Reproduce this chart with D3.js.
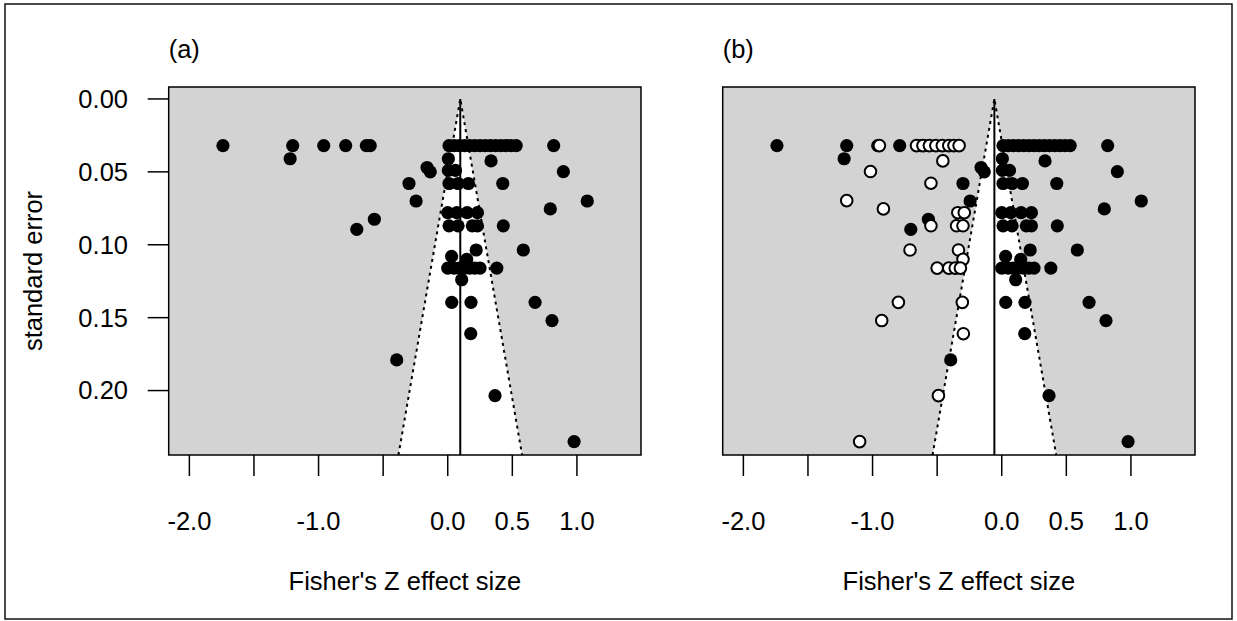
<!DOCTYPE html>
<html>
<head>
<meta charset="utf-8">
<script src="https://cdn.jsdelivr.net/npm/d3@7"></script>
<style>
  body { margin: 0; background: #fff; }
  svg { display: block; font-family: "Liberation Sans", Arial, sans-serif; }
</style>
</head>
<body>
<div id="chart"></div>
<script>
// Observed studies (Fisher's Z, standard error) - both panels
const studyZ = [
  -1.74, -1.20, -0.96, -0.79, -0.63, -0.60,
  0.01, 0.05, 0.09, 0.13, 0.17, 0.21, 0.25, 0.29, 0.33, 0.37, 0.41, 0.45, 0.49, 0.53, 0.82,
  -1.22, 0.005, 0.335,
  -0.16, -0.135, 0.005, 0.06, 0.895,
  -0.30, 0.01, 0.08, 0.16, 0.426,
  -0.245, 1.08, 0.794,
  0.0, 0.07, 0.15, 0.23,
  -0.568,
  0.01, 0.08, 0.19, 0.23, 0.43,
  -0.704,
  0.22, 0.585, 0.03, 0.147,
  0.0, 0.05, 0.09, 0.13, 0.17, 0.21, 0.25, 0.38,
  0.108,
  0.031, 0.18, 0.676,
  0.807, 0.178, -0.395, 0.366, 0.978
];
const studySE = [
  0.032, 0.032, 0.032, 0.032, 0.032, 0.032,
  0.032, 0.032, 0.032, 0.032, 0.032, 0.032, 0.032, 0.032, 0.032, 0.032, 0.032, 0.032, 0.032, 0.032, 0.032,
  0.041, 0.041, 0.0425,
  0.047, 0.050, 0.049, 0.049, 0.0498,
  0.058, 0.058, 0.058, 0.058, 0.058,
  0.070, 0.070, 0.0754,
  0.078, 0.078, 0.078, 0.078,
  0.0825,
  0.087, 0.087, 0.087, 0.087, 0.087,
  0.0894,
  0.1036, 0.1036, 0.108, 0.110,
  0.116, 0.116, 0.116, 0.116, 0.116, 0.116, 0.116, 0.116,
  0.124,
  0.1395, 0.1395, 0.1395,
  0.152, 0.161, 0.179, 0.2035, 0.235
];

// Imputed studies (open circles) - panel (b) only
const filledZ = [
  -0.947, -0.66, -0.61, -0.56, -0.51, -0.46, -0.41, -0.37, -0.33,
  -0.456, -1.016, -0.548, -1.20, -0.916,
  -0.34, -0.29,
  -0.548, -0.35, -0.30,
  -0.71, -0.335, -0.30,
  -0.50, -0.41, -0.36, -0.32,
  -0.305, -0.80, -0.929, -0.297, -0.49, -1.10
];
const filledSE = [
  0.032, 0.032, 0.032, 0.032, 0.032, 0.032, 0.032, 0.032, 0.032,
  0.0425, 0.0498, 0.0578, 0.0697, 0.0754,
  0.078, 0.078,
  0.087, 0.087, 0.087,
  0.1036, 0.1036, 0.110,
  0.116, 0.116, 0.116, 0.116,
  0.1395, 0.1395, 0.152, 0.161, 0.2035, 0.235
];

// Pooled estimates (vertical line) for each panel
const panelLabels = ["(a)", "(b)"];
const panelCenters = [0.097, -0.057];

const xTicks = [-2.0, -1.5, -1.0, -0.5, 0.0, 0.5, 1.0];
const xTickLabels = ["-2.0", "", "-1.0", "", "0.0", "0.5", "1.0"];
const yTicks = [0.00, 0.05, 0.10, 0.15, 0.20];

const width = 1237, height = 621;
const panelOffset = 554;
const box = { left: 168.7, right: 641, top: 87, bottom: 455 };
const fontSize = "25.5px";

const svg = d3.select("#chart").append("svg")
  .attr("width", width)
  .attr("height", height);

// Outer frame
svg.append("rect")
  .attr("x", 5).attr("y", 4)
  .attr("width", 1227).attr("height", 615)
  .attr("fill", "none")
  .attr("stroke", "#111")
  .attr("stroke-width", 1.5);

const x = d3.scaleLinear().domain([-2.16, 1.496]).range([box.left, box.right]);
const y = d3.scaleLinear().domain([-0.0082, 0.2442]).range([box.top, box.bottom]);

const studies = studyZ.map((z, i) => ({ z: z, se: studySE[i] }));
const imputed = filledZ.map((z, i) => ({ z: z, se: filledSE[i] }));

drawPanel(0, studies, []);
drawPanel(1, studies, imputed);

function drawPanel(idx, filled, open) {
  const g = svg.append("g").attr("transform", `translate(${idx * panelOffset},0)`);
  const center = panelCenters[idx];
  const seMax = y.domain()[1];

  // Gray background
  g.append("rect")
    .attr("x", box.left).attr("y", box.top)
    .attr("width", box.right - box.left).attr("height", box.bottom - box.top)
    .attr("fill", "#d3d3d3");

  // White funnel region
  const funnel = [
    [center - 1.96 * seMax, seMax],
    [center, 0],
    [center + 1.96 * seMax, seMax]
  ];
  g.append("path")
    .attr("d", d3.line().x(d => x(d[0])).y(d => y(d[1]))(funnel) + "Z")
    .attr("fill", "#fff");

  // Dotted funnel edges
  g.append("path")
    .attr("d", d3.line().x(d => x(d[0])).y(d => y(d[1]))(funnel))
    .attr("fill", "none")
    .attr("stroke", "#000")
    .attr("stroke-width", 2)
    .attr("stroke-dasharray", "3,4");

  // Vertical line at the estimate
  g.append("line")
    .attr("x1", x(center)).attr("x2", x(center))
    .attr("y1", y(0)).attr("y2", y(seMax))
    .attr("stroke", "#000")
    .attr("stroke-width", 2);

  // Observed points
  g.selectAll("circle.obs")
    .data(filled)
    .enter()
    .append("circle")
    .attr("class", "obs")
    .attr("cx", d => x(d.z))
    .attr("cy", d => y(d.se))
    .attr("r", 6.6)
    .attr("fill", "#000");

  // Imputed points
  g.selectAll("circle.imp")
    .data(open)
    .enter()
    .append("circle")
    .attr("class", "imp")
    .attr("cx", d => x(d.z))
    .attr("cy", d => y(d.se))
    .attr("r", 5.8)
    .attr("fill", "#fff")
    .attr("stroke", "#000")
    .attr("stroke-width", 2);

  // Box
  g.append("rect")
    .attr("x", box.left).attr("y", box.top)
    .attr("width", box.right - box.left).attr("height", box.bottom - box.top)
    .attr("fill", "none")
    .attr("stroke", "#000")
    .attr("stroke-width", 1.5);

  // X axis ticks and labels
  g.selectAll("line.xt")
    .data(xTicks)
    .enter()
    .append("line")
    .attr("x1", d => x(d)).attr("x2", d => x(d))
    .attr("y1", box.bottom).attr("y2", box.bottom + 21)
    .attr("stroke", "#000")
    .attr("stroke-width", 1.5);

  g.selectAll("text.xl")
    .data(xTicks)
    .enter()
    .append("text")
    .attr("x", d => x(d))
    .attr("y", 530)
    .attr("text-anchor", "middle")
    .style("font-size", fontSize)
    .text((d, i) => xTickLabels[i]);

  g.append("text")
    .attr("x", (box.left + box.right) / 2)
    .attr("y", 590)
    .attr("text-anchor", "middle")
    .style("font-size", fontSize)
    .text("Fisher's Z effect size");

  // Panel label
  g.append("text")
    .attr("x", box.left)
    .attr("y", 58)
    .style("font-size", fontSize)
    .text(panelLabels[idx]);

  // Y axis only on left panel
  if (idx === 0) {
    g.selectAll("line.yt")
      .data(yTicks)
      .enter()
      .append("line")
      .attr("x1", box.left - 21).attr("x2", box.left)
      .attr("y1", d => y(d)).attr("y2", d => y(d))
      .attr("stroke", "#000")
      .attr("stroke-width", 1.5);

    g.selectAll("text.yl")
      .data(yTicks)
      .enter()
      .append("text")
      .attr("x", 128)
      .attr("y", d => y(d))
      .attr("dy", "0.35em")
      .attr("text-anchor", "end")
      .style("font-size", fontSize)
      .text(d => d.toFixed(2));

    g.append("text")
      .attr("transform", `translate(42,${(box.top + box.bottom) / 2}) rotate(-90)`)
      .attr("text-anchor", "middle")
      .style("font-size", fontSize)
      .text("standard error");
  }
}
</script>
</body>
</html>
